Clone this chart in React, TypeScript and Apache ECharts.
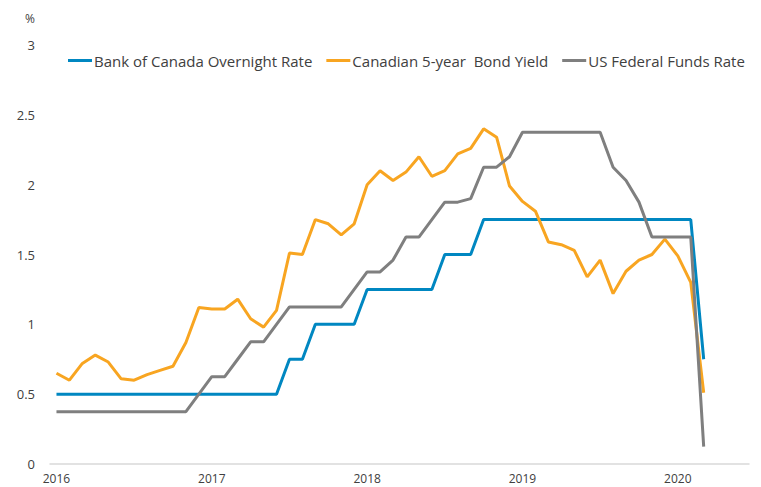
import React, { useEffect, useRef } from "react";
import * as echarts from "echarts";

const months: string[] = [];
for (let y = 2016; y <= 2020; y++) {
  for (let m = 1; m <= 12; m++) {
    if (y === 2020 && m > 3) break;
    months.push(`${y}-${String(m).padStart(2, "0")}`);
  }
}

const yearTicks = ["2016", "2017", "2018", "2019", "2020"];
const yearTickIndex = [0, 12, 24, 36, 48];

const bocRate = [
  0.5, 0.5, 0.5, 0.5, 0.5, 0.5, 0.5, 0.5, 0.5, 0.5, 0.5, 0.5,
  0.5, 0.5, 0.5, 0.5, 0.5, 0.5, 0.75, 0.75, 1.0, 1.0, 1.0, 1.0,
  1.25, 1.25, 1.25, 1.25, 1.25, 1.25, 1.5, 1.5, 1.5, 1.75, 1.75, 1.75,
  1.75, 1.75, 1.75, 1.75, 1.75, 1.75, 1.75, 1.75, 1.75, 1.75, 1.75, 1.75,
  1.75, 1.75, 0.75,
];

const cad5y = [
  0.65, 0.6, 0.72, 0.78, 0.73, 0.61, 0.6, 0.64, 0.67, 0.7, 0.87, 1.12,
  1.11, 1.11, 1.18, 1.04, 0.98, 1.1, 1.51, 1.5, 1.75, 1.72, 1.64, 1.72,
  2.0, 2.1, 2.03, 2.09, 2.2, 2.06, 2.1, 2.22, 2.26, 2.4, 2.34, 1.99,
  1.88, 1.81, 1.59, 1.57, 1.53, 1.34, 1.46, 1.22, 1.38, 1.46, 1.5, 1.61,
  1.49, 1.3, 0.51,
];

const usFed = [
  0.375, 0.375, 0.375, 0.375, 0.375, 0.375, 0.375, 0.375, 0.375, 0.375, 0.375, 0.5,
  0.625, 0.625, 0.75, 0.875, 0.875, 1.0, 1.125, 1.125, 1.125, 1.125, 1.125, 1.25,
  1.375, 1.375, 1.46, 1.625, 1.625, 1.75, 1.875, 1.875, 1.9, 2.125, 2.125, 2.2,
  2.375, 2.375, 2.375, 2.375, 2.375, 2.375, 2.375, 2.125, 2.03, 1.875, 1.625, 1.625,
  1.625, 1.625, 0.125,
];

const seriesNames = [
  "Bank of Canada Overnight Rate",
  "Canadian 5-year  Bond Yield",
  "US Federal Funds Rate",
];
const seriesColors = ["#0087C1", "#F8A521", "#7F7F7F"];
const seriesValues = [bocRate, cad5y, usFed];

export default function App() {
  const ref = useRef<HTMLDivElement>(null);
  useEffect(() => {
    if (!ref.current) return;
    const chart = echarts.init(ref.current, undefined, { renderer: "svg" });
    const font = "'Open Sans', 'Noto Sans', sans-serif";
    chart.setOption({
      animation: false,
      backgroundColor: "#ffffff",
      textStyle: { fontFamily: font },
      grid: { left: 50, right: 12, top: 45, bottom: 23, containLabel: false },
      legend: {
        top: 48,
        left: 63,
        itemGap: 14,
        itemWidth: 24,
        itemHeight: 3,
        icon: "rect",
        textStyle: {
          fontFamily: font,
          fontSize: 15,
          color: "#404040",
          padding: [0, 0, 0, -3],
        },
        data: seriesNames,
      },
      graphic: [
        {
          type: "text",
          left: 25,
          top: 12,
          style: { text: "%", fontFamily: font, fontSize: 12, fill: "#404040" },
        },
      ],
      xAxis: {
        type: "value",
        min: -0.5,
        max: 53.5,
        splitLine: { show: false },
        axisTick: { show: false },
        axisLine: { show: true, lineStyle: { color: "#D9D9D9", width: 1.5 } },
        axisLabel: {
          customValues: yearTickIndex,
          formatter: (v: number) => yearTicks[yearTickIndex.indexOf(Math.round(v))] ?? "",
          color: "#404040",
          fontSize: 12,
          fontFamily: font,
          margin: 8,
        },
      },
      yAxis: {
        type: "value",
        min: 0,
        max: 3,
        interval: 0.5,
        splitLine: { show: false },
        axisLine: { show: false },
        axisTick: { show: false },
        axisLabel: {
          color: "#404040",
          fontSize: 13,
          fontFamily: font,
          margin: 15,
        },
      },
      series: seriesNames.map((name, k) => ({
        name,
        type: "line",
        showSymbol: false,
        symbol: "none",
        color: seriesColors[k],
        lineStyle: { width: 3, color: seriesColors[k] },
        data: seriesValues[k].map((v, i) => [i, v]),
      })),
    });
    return () => chart.dispose();
  }, []);
  return <div ref={ref} style={{ width: 761, height: 487, position: "absolute", left: 0, top: 0 }} />;
}
